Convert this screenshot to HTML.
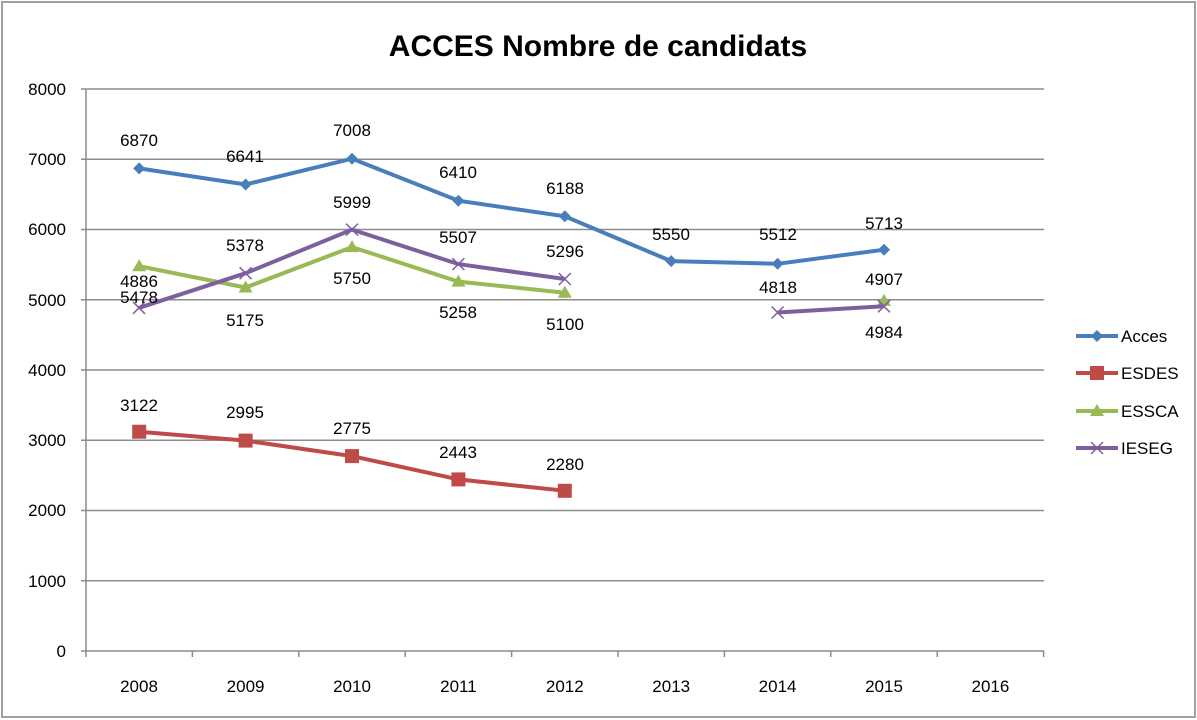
<!DOCTYPE html><html><head><style>body{margin:0;background:#fff}svg{display:block}</style></head><body>
<svg width="1197" height="720" xmlns="http://www.w3.org/2000/svg" font-family="Liberation Sans, sans-serif">
<rect x="2" y="2" width="1193" height="715" fill="#fff" stroke="#a0a0a0" stroke-width="2"/>
<text x="598" y="56" text-anchor="middle" font-size="30" font-weight="bold">ACCES Nombre de candidats</text>
<g stroke="#8c8c8c" stroke-width="1.5">
<line x1="81" y1="89" x2="1044" y2="89"/><line x1="81" y1="159.3" x2="1044" y2="159.3"/>
<line x1="81" y1="229.5" x2="1044" y2="229.5"/><line x1="81" y1="299.8" x2="1044" y2="299.8"/>
<line x1="81" y1="370" x2="1044" y2="370"/><line x1="81" y1="440.3" x2="1044" y2="440.3"/>
<line x1="81" y1="510.5" x2="1044" y2="510.5"/><line x1="81" y1="580.8" x2="1044" y2="580.8"/>
<line x1="81" y1="651" x2="1044" y2="651"/><line x1="86" y1="89" x2="86" y2="657"/>
<line x1="192.4" y1="651" x2="192.4" y2="657"/><line x1="298.8" y1="651" x2="298.8" y2="657"/>
<line x1="405.2" y1="651" x2="405.2" y2="657"/><line x1="511.6" y1="651" x2="511.6" y2="657"/>
<line x1="618" y1="651" x2="618" y2="657"/><line x1="724.4" y1="651" x2="724.4" y2="657"/>
<line x1="830.8" y1="651" x2="830.8" y2="657"/><line x1="937.2" y1="651" x2="937.2" y2="657"/>
<line x1="1043.6" y1="651" x2="1043.6" y2="657"/>
</g>
<g font-size="17" text-anchor="end">
<text x="66" y="95">8000</text><text x="66" y="165">7000</text><text x="66" y="235">6000</text>
<text x="66" y="306">5000</text><text x="66" y="376">4000</text><text x="66" y="446">3000</text>
<text x="66" y="516">2000</text><text x="66" y="587">1000</text><text x="66" y="657">0</text>
</g>
<g font-size="17" text-anchor="middle">
<text x="139" y="692">2008</text><text x="245.6" y="692">2009</text><text x="352" y="692">2010</text>
<text x="458.4" y="692">2011</text><text x="564.8" y="692">2012</text><text x="671.2" y="692">2013</text>
<text x="777.6" y="692">2014</text><text x="884" y="692">2015</text><text x="990.4" y="692">2016</text>
</g>
<!-- Acces -->
<polyline fill="none" stroke="#4a7ebb" stroke-width="4" points="139.2,168.4 245.6,184.5 352,158.7 458.4,200.7 564.8,216.3 671.2,261.1 777.6,263.8 884,249.7"/>
<g fill="#4a7ebb">
<path d="M139.2,162.4l6,6-6,6-6-6z"/><path d="M245.6,178.5l6,6-6,6-6-6z"/><path d="M352,152.7l6,6-6,6-6-6z"/><path d="M458.4,194.7l6,6-6,6-6-6z"/><path d="M564.8,210.3l6,6-6,6-6-6z"/><path d="M671.2,255.1l6,6-6,6-6-6z"/><path d="M777.6,257.8l6,6-6,6-6-6z"/><path d="M884,243.7l6,6-6,6-6-6z"/>
</g>
<!-- ESDES -->
<polyline fill="none" stroke="#be4b48" stroke-width="4" points="139.2,431.7 245.6,440.6 352,456.1 458.4,479.4 564.8,490.8"/>
<g fill="#be4b48">
<rect x="132.2" y="424.7" width="14" height="14"/><rect x="238.6" y="433.6" width="14" height="14"/><rect x="345" y="449.1" width="14" height="14"/><rect x="451.4" y="472.4" width="14" height="14"/><rect x="557.8" y="483.8" width="14" height="14"/>
</g>
<!-- ESSCA -->
<polyline fill="none" stroke="#98b954" stroke-width="4" points="139.2,266.2 245.6,287.5 352,247.1 458.4,281.6 564.8,292.7"/>
<g fill="#98b954">
<path d="M139.2,259.2l7,12h-14z"/><path d="M245.6,280.5l7,12h-14z"/><path d="M352,240.1l7,12h-14z"/><path d="M458.4,274.6l7,12h-14z"/><path d="M564.8,285.7l7,12h-14z"/><path d="M884,293.9l7,12h-14z"/>
</g>
<!-- IESEG -->
<polyline fill="none" stroke="#7d5fa0" stroke-width="4" points="139.2,307.8 245.6,273.2 352,229.6 458.4,264.1 564.8,279"/>
<polyline fill="none" stroke="#7d5fa0" stroke-width="4" points="777.6,312.5 884,306.3"/>
<g stroke="#7d5fa0" stroke-width="1.5">
<path d="M133,301.8l12,12M145,301.8l-12,12"/><path d="M239.6,267.2l12,12M251.6,267.2l-12,12"/><path d="M346,223.6l12,12M358,223.6l-12,12"/><path d="M452.4,258.1l12,12M464.4,258.1l-12,12"/><path d="M558.8,273l12,12M570.8,273l-12,12"/><path d="M771.6,306.5l12,12M783.6,306.5l-12,12"/><path d="M878,300.3l12,12M890,300.3l-12,12"/>
</g>
<g font-size="17" text-anchor="middle">
<text x="139" y="146">6870</text><text x="245" y="162">6641</text><text x="352" y="136">7008</text><text x="458" y="178">6410</text><text x="565" y="194">6188</text><text x="671" y="240">5550</text><text x="778" y="240">5512</text><text x="884" y="229">5713</text>
<text x="139" y="411">3122</text><text x="245" y="418">2995</text><text x="352" y="434">2775</text><text x="458" y="458">2443</text><text x="565" y="470">2280</text>
<text x="139" y="303">5478</text><text x="245" y="326">5175</text><text x="352" y="284">5750</text><text x="458" y="318">5258</text><text x="565" y="330">5100</text><text x="884" y="338">4984</text>
<text x="139" y="287">4886</text><text x="245" y="251">5378</text><text x="352" y="208">5999</text><text x="458" y="243">5507</text><text x="565" y="257">5296</text><text x="778" y="293">4818</text><text x="884" y="285">4907</text>
</g>
<g font-size="17">
<line x1="1076" y1="336" x2="1118" y2="336" stroke="#4a7ebb" stroke-width="4"/><path d="M1097,330l6,6-6,6-6-6z" fill="#4a7ebb"/><text x="1121" y="342">Acces</text>
<line x1="1076" y1="373" x2="1118" y2="373" stroke="#be4b48" stroke-width="4"/><rect x="1090" y="366" width="14" height="14" fill="#be4b48"/><text x="1121" y="379">ESDES</text>
<line x1="1076" y1="411" x2="1118" y2="411" stroke="#98b954" stroke-width="4"/><path d="M1097,404l7,12h-14z" fill="#98b954"/><text x="1121" y="417">ESSCA</text>
<line x1="1076" y1="448" x2="1118" y2="448" stroke="#7d5fa0" stroke-width="4"/><path d="M1091,442l12,12M1103,442l-12,12" stroke="#7d5fa0" stroke-width="1.5"/><text x="1121" y="454">IESEG</text>
</g>
</svg>
</body></html>
